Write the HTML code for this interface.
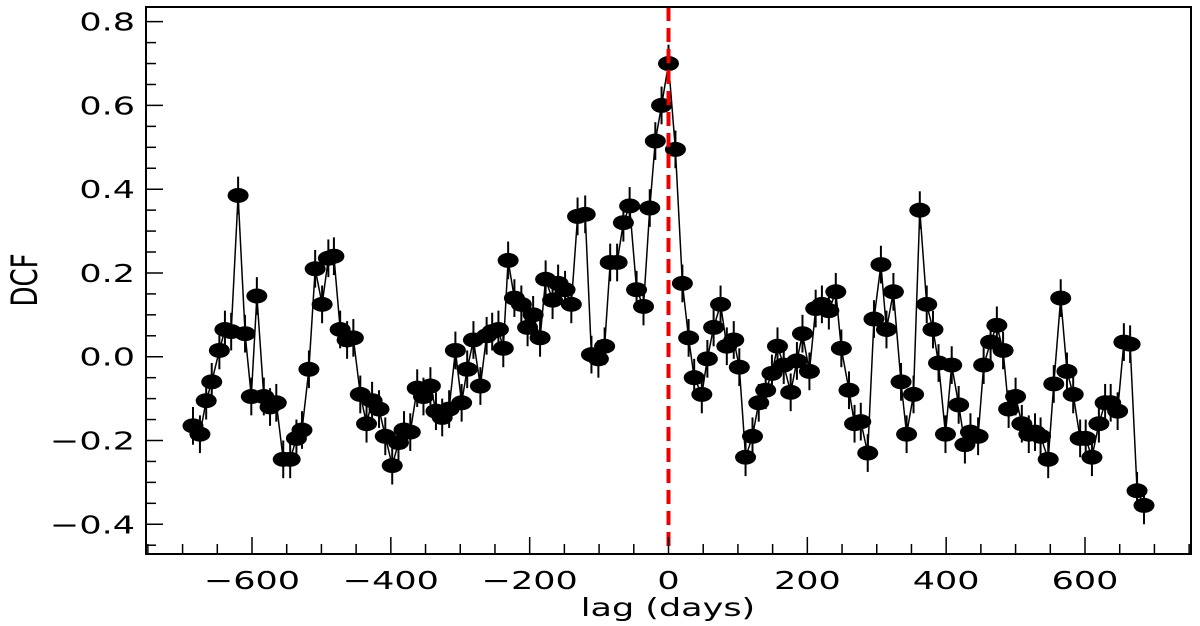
<!DOCTYPE html>
<html><head><meta charset="utf-8"><style>
body{margin:0;background:#fff;}
svg{display:block;font-family:"DejaVu Sans","Liberation Sans",sans-serif;}
</style></head><body>
<svg id="chart" width="1200" height="626" viewBox="0 0 1200 626" xmlns="http://www.w3.org/2000/svg">
<g id="series"></g>
<g id="axes"></g>
</svg>
<script>
const lags=[-685,-675,-666,-658,-647,-639,-630,-620,-610,-601,-593,-583,-574,-565,-555,-545,-536,-528,-518,-509,-499,-490,-482,-473,-463,-454,-444,-435,-427,-417,-408,-398,-389,-381,-372,-362,-353,-343,-335,-326,-316,-307,-298,-290,-281,-271,-262,-254,-245,-238,-231,-222,-212,-203,-195,-185,-177,-167,-159,-149,-140,-131,-120,-111,-101,-92,-84,-74,-65,-56,-46,-36,-27,-19,-10,0,10,20,29,37,48,56,65,75,84,94,102,111,121,130,140,149,157,166,176,185,193,203,212,221,231,241,249,260,268,277,287,296,306,314,324,335,343,353,362,372,381,389,399,408,418,427,435,446,454,464,473,482,490,500,509,519,528,536,547,555,565,574,583,593,601,610,620,629,637,647,656,665,675,685];
const dcf=[-0.165,-0.185,-0.105,-0.06,0.015,0.065,0.06,0.385,0.055,-0.095,0.145,-0.095,-0.12,-0.11,-0.245,-0.245,-0.195,-0.175,-0.03,0.21,0.125,0.235,0.24,0.065,0.04,0.045,-0.09,-0.16,-0.105,-0.125,-0.19,-0.26,-0.205,-0.175,-0.18,-0.075,-0.095,-0.07,-0.13,-0.145,-0.125,0.015,-0.11,-0.03,0.04,-0.07,0.05,0.06,0.065,0.02,0.23,0.14,0.125,0.07,0.1,0.045,0.185,0.135,0.175,0.16,0.125,0.335,0.34,0.005,-0.005,0.025,0.225,0.225,0.32,0.36,0.16,0.12,0.355,0.515,0.6,0.7,0.495,0.175,0.045,-0.05,-0.09,-0.005,0.07,0.125,0.025,0.04,-0.025,-0.24,-0.19,-0.11,-0.08,-0.04,0.025,-0.02,-0.085,-0.01,0.055,-0.035,0.115,0.125,0.11,0.155,0.02,-0.08,-0.16,-0.155,-0.23,0.09,0.22,0.065,0.155,-0.06,-0.185,-0.09,0.35,0.125,0.065,-0.015,-0.185,-0.02,-0.115,-0.21,-0.18,-0.19,-0.02,0.035,0.075,0.015,-0.125,-0.095,-0.16,-0.185,-0.18,-0.19,-0.245,-0.065,0.14,-0.035,-0.09,-0.195,-0.195,-0.24,-0.16,-0.11,-0.11,-0.13,0.035,0.03,-0.32,-0.355];
const errBar=0.045;
const xTicks=[-600,-400,-200,0,200,400,600];
const xTickLabels=["\u2212600","\u2212400","\u2212200","0","200","400","600"];
const yTicks=[-0.4,-0.2,0.0,0.2,0.4,0.6,0.8];
const yTickLabels=["\u22120.4","\u22120.2","0.0","0.2","0.4","0.6","0.8"];

const L=146,R=1191,T=7,B=554;
const xMin=-752.7,xMax=752.7,yMin=-0.471,yMax=0.835;
const X=v=>L+(v-xMin)/(xMax-xMin)*(R-L);
const Y=v=>B-(v-yMin)/(yMax-yMin)*(B-T);
const SX=1.4;
const NS="http://www.w3.org/2000/svg";
function mk(tag,attrs,parent){const e=document.createElementNS(NS,tag);for(const k in attrs)e.setAttribute(k,attrs[k]);parent.appendChild(e);return e;}
const series=document.getElementById('series'),axes=document.getElementById('axes');

let d='';lags.forEach((l,i)=>{d+=(i?'L':'M')+X(l).toFixed(1)+' '+Y(dcf[i]).toFixed(1);});
const line=mk('path',{d:d,fill:'none',stroke:'#000','stroke-width':1.5},series);


lags.forEach((l,i)=>{
  const e=mk('line',{x1:X(l),x2:X(l),y1:Y(dcf[i]+errBar),y2:Y(dcf[i]-errBar),stroke:'#000','stroke-width':2},series);
  
  
});
lags.forEach((l,i)=>{
  const p=mk('ellipse',{cx:X(l),cy:Y(dcf[i]),rx:10.5,ry:7.5,fill:'#000'},series);
  
  
});
const zl=mk('line',{x1:X(0),x2:X(0),y1:T,y2:B,stroke:'#e00','stroke-width':4,'stroke-dasharray':'14,7'},series);



const fr=mk('rect',{x:L,y:T,width:R-L,height:B-T,fill:'none',stroke:'#000','stroke-width':2},axes);


for(let v=-750;v<=750;v+=50){const x=X(v);const maj=(v%200===0);const len=maj?17:10;
  mk('line',{x1:x,x2:x,y1:B,y2:B-len,stroke:'#000','stroke-width':1.5},axes);}
for(let k=-9;k<=16;k++){const v=k*0.05;const y=Y(v);const maj=(k%4===0);const len=maj?17:10;
  mk('line',{x1:L,x2:L+len,y1:y,y2:y,stroke:'#000','stroke-width':1.5},axes);}
xTicks.forEach((v,i)=>{const t=mk('text',{x:0,y:0,'text-anchor':'middle','font-size':25,transform:'translate('+X(v)+','+(B+35)+') scale('+SX+',1)'},axes);t.textContent=xTickLabels[i];
  
  });
yTicks.forEach((v,i)=>{const t=mk('text',{x:0,y:0,'text-anchor':'end','font-size':25,transform:'translate('+(L-11)+','+(Y(v)+9)+') scale('+SX+',1)'},axes);t.textContent=yTickLabels[i];
  
  });
const xt=mk('text',{x:0,y:0,'text-anchor':'middle','font-size':25,transform:'translate(668,616) scale('+SX+',1)'},axes);xt.textContent='lag (days)';


const yt=mk('text',{x:0,y:0,'text-anchor':'middle','font-size':26,transform:'translate(37,280) scale('+SX+',1) rotate(-90)'},axes);yt.textContent='DCF';


</script>
</body></html>
